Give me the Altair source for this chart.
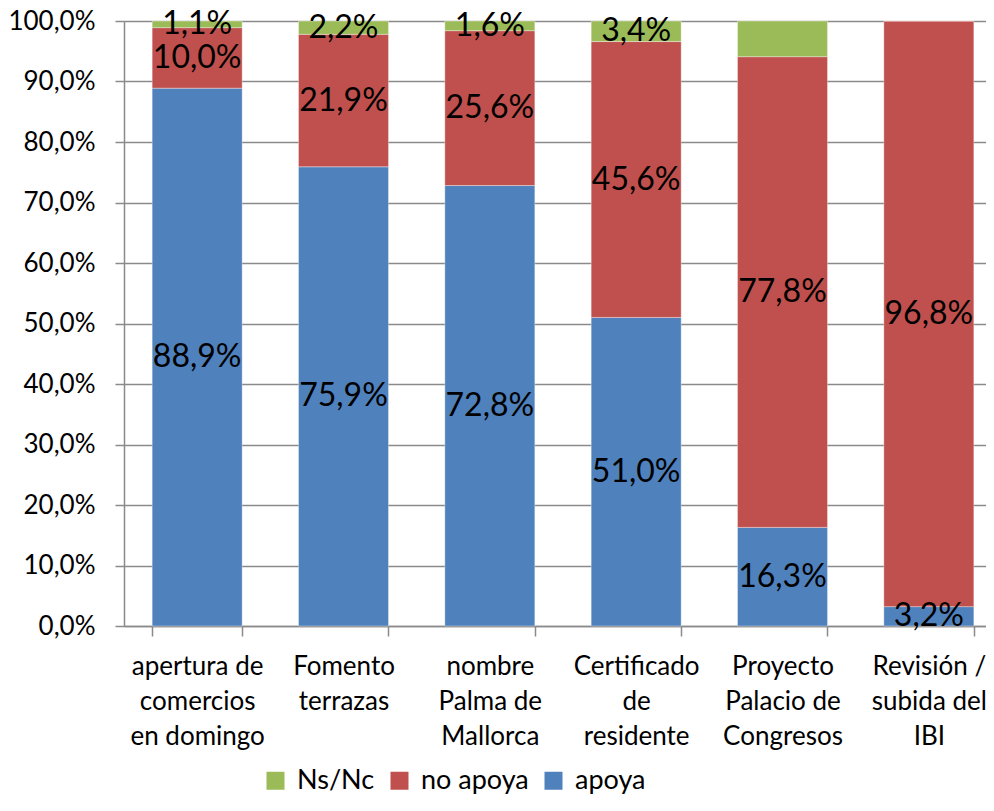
import altair as alt
import pandas as pd

categories = [
    "apertura de\ncomercios\nen domingo",
    "Fomento\nterrazas",
    "nombre\nPalma de\nMallorca",
    "Certificado\nde\nresidente",
    "Proyecto\nPalacio de\nCongresos",
    "Revisión /\nsubida del\nIBI",
]
apoya = [88.9, 75.9, 72.8, 51.0, 16.3, 3.2]
no_apoya = [10.0, 21.9, 25.6, 45.6, 77.8, 96.8]
ns_nc = [1.1, 2.2, 1.6, 3.4, 5.9, 0.0]
show_ns = [True, True, True, True, False, False]
series = ["Ns/Nc", "no apoya", "apoya"]
colors = ["#9BBB59", "#C0504D", "#4F81BD"]
y_ticks = [0, 0.1, 0.2, 0.3, 0.4, 0.5, 0.6, 0.7, 0.8, 0.9, 1.0]

rows = []
for i, c in enumerate(categories):
    rows.append({"cat": c, "serie": "apoya", "value": apoya[i] / 100, "order": 0, "show": True})
    rows.append({"cat": c, "serie": "no apoya", "value": no_apoya[i] / 100, "order": 1, "show": True})
    rows.append({"cat": c, "serie": "Ns/Nc", "value": ns_nc[i] / 100, "order": 2, "show": show_ns[i]})
df = pd.DataFrame(rows)

FONT = "Lato"
GRAY = "#8a8a8a"

base = alt.Chart(df).transform_stack(
    stack="value",
    groupby=["cat"],
    as_=["y0", "y1"],
    sort=[alt.SortField("order", order="ascending")],
)

xenc = alt.X(
    "cat:N",
    sort=categories,
    scale=alt.Scale(range=[0, 878], paddingInner=0.385, paddingOuter=0.1925),
    axis=alt.Axis(
        title=None,
        labelAngle=0,
        labelExpr="split(datum.label, '\\n')",
        labelFont=FONT,
        labelFontSize=26,
        labelColor="black",
        labelLineHeight=35,
        labelBaseline="top",
        labelPadding=17,
        tickBand="extent",
        tickSize=10,
        tickColor=GRAY,
        tickWidth=1.5,
        domainColor=GRAY,
        domainWidth=1.5,
        grid=False,
    ),
)

bars = base.mark_bar(stroke="#ffffff", strokeOpacity=0.35, strokeWidth=1).encode(
    x=xenc,
    y=alt.Y(
        "y0:Q",
        scale=alt.Scale(domain=[0, 1], nice=False),
        axis=alt.Axis(
            title=None,
            values=y_ticks,
            labelExpr="replace(format(datum.value, '.1%'), '.', ',')",
            labelFont=FONT,
            labelFontSize=26,
            labelColor="black",
            labelPadding=20,
            tickSize=9,
            tickColor=GRAY,
            tickWidth=1.5,
            domainColor=GRAY,
            domainWidth=1.5,
            gridColor=GRAY,
            gridWidth=1.5,
        ),
    ),
    y2="y1:Q",
    color=alt.Color(
        "serie:N",
        scale=alt.Scale(domain=series, range=colors),
        legend=alt.Legend(
            title=None,
            orient="none",
            direction="horizontal",
            legendX=138,
            legendY=746,
            symbolType="square",
            symbolSize=324,
            symbolStrokeWidth=0,
            labelFont=FONT,
            labelFontSize=27,
            labelColor="black",
            labelOffset=8,
            columnPadding=11,
        ),
    ),
)

labels = base.transform_filter("datum.show").transform_calculate(
    mid="(datum.y0 + datum.y1) / 2",
    lab="replace(format(datum.value, '.1%'), '.', ',')",
).mark_text(font=FONT, fontSize=32, color="black", baseline="middle", align="center").encode(
    x=alt.X("cat:N", sort=categories),
    y=alt.Y("mid:Q"),
    text="lab:N",
)

chart = (
    alt.layer(bars, labels)
    .properties(
        width=862,
        height=605,
        autosize=alt.AutoSizeParams(type="none"),
        padding={"left": 116, "top": 13, "right": 0, "bottom": 170},
    )
    .configure_view(stroke=None)
)

chart.save("out.html", embed_options={"renderer": "svg", "actions": False})
